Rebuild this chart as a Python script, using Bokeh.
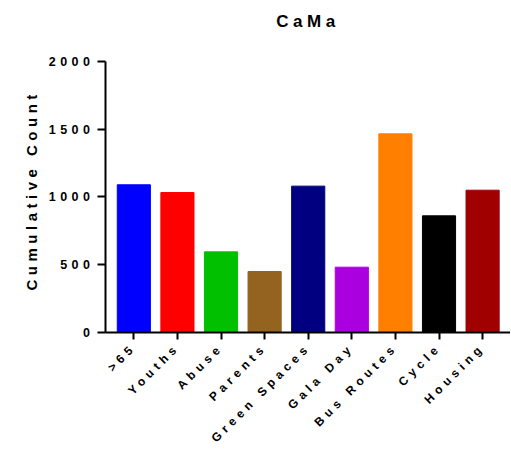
import math
from bokeh.plotting import figure
from bokeh.models import ColumnDataSource, Range1d, FixedTicker, InlineStyleSheet, CustomJS, Label, Title
from bokeh.document import Document
from bokeh.embed import file_html
from bokeh.resources import INLINE

title_text = "CaMa"
y_label = "Cumulative Count"
categories = [">65", "Youths", "Abuse", "Parents", "Green Spaces", "Gala Day", "Bus Routes", "Cycle", "Housing"]
counts = [1090, 1033, 595, 450, 1080, 482, 1466, 861, 1050]
colors = ["#0000FF", "#FF0000", "#00C000", "#956320", "#000080", "#AA00E0", "#FF8000", "#000000", "#A00000"]
y_ticks = [0, 500, 1000, 1500, 2000]
y_max = 2000

xs = list(range(len(categories)))
src = ColumnDataSource(dict(x=xs, top=counts, color=colors))

x_range = Range1d(-0.65, 8.64)
y_range = Range1d(0, 2450)

p = figure(width=510, height=454, output_backend="svg", toolbar_location=None,
           x_range=x_range, y_range=y_range,
           min_border_left=105, min_border_right=0, min_border_top=0, min_border_bottom=122)
p.vbar(x="x", top="top", width=0.76, bottom=0, fill_color="color", line_color="color", source=src)

p.grid.visible = False
p.outline_line_color = None

title = Label(x=(x_range.start + x_range.end) / 2, y=y_max, y_offset=40,
              text=title_text, text_align="center", text_baseline="alphabetic",
              text_font="Liberation Sans", text_font_size="17px", text_font_style="bold",
              text_color="black")
p.add_layout(title)

ylab = Title(text=y_label, align="left", offset=42, standoff=12,
             text_font="Liberation Sans", text_font_size="15px", text_font_style="bold",
             text_color="black")
p.add_layout(ylab, "left")

for ax in (p.xaxis[0], p.yaxis[0]):
    ax.axis_line_width = 2
    ax.major_tick_line_width = 2
    ax.minor_tick_line_color = None
    ax.major_tick_in = 0
    ax.major_tick_out = 7
    ax.major_label_text_font = "Liberation Sans"
    ax.major_label_text_font_style = "bold"
    ax.major_label_text_font_size = "12px"
    ax.major_label_text_color = "black"

p.xaxis.ticker = FixedTicker(ticks=xs)
p.xaxis.major_label_overrides = {i: c for i, c in enumerate(categories)}
p.xaxis.major_label_orientation = math.pi / 4
p.xaxis.major_label_standoff = 6

p.yaxis.ticker = FixedTicker(ticks=y_ticks)
p.yaxis.bounds = (0, y_max)
p.yaxis.major_tick_out = 8
p.yaxis.major_label_standoff = 3
p.yaxis.major_label_text_font_size = "12.5px"

p.stylesheets = [InlineStyleSheet(css=":host { letter-spacing: 4.5px; }")]

doc = Document()
doc.add_root(p)
doc.js_on_event("document_ready", CustomJS(args=dict(p=p), code="""
const LS = "4.5px";
for (const C of [window.CanvasRenderingContext2D, window.OffscreenCanvasRenderingContext2D]) {
  if (!C || C.prototype.__ls_patched) continue;
  const orig = C.prototype.measureText;
  C.prototype.measureText = function(t) {
    try { this.letterSpacing = LS; } catch (e) {}
    return orig.call(this, t);
  };
  C.prototype.__ls_patched = true;
}
p.width = p.width - 1;
p.width = p.width + 1;
"""))

open("out.html", "w").write(file_html(p, INLINE))
